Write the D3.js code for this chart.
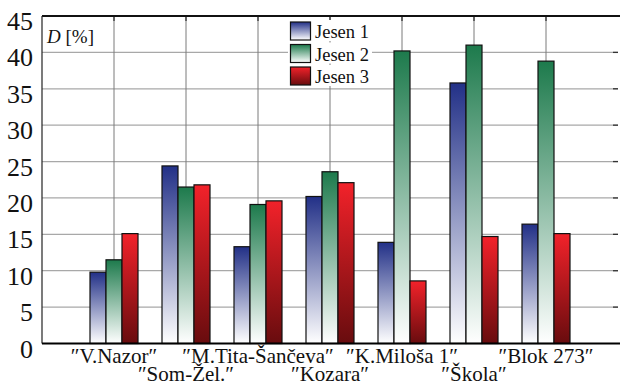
<!DOCTYPE html>
<html><head><meta charset="utf-8">
<script src="https://cdn.jsdelivr.net/npm/d3@7"></script>
<style>html,body{margin:0;padding:0;background:#fff;}svg{display:block;}</style>
</head><body>
<script>
const categories = ["V.Nazor","Som-Žel.","M.Tita-Šančeva","Kozara","K.Miloša 1","Škola","Blok 273"];
const series = ["Jesen 1","Jesen 2","Jesen 3"];
const jesen1 = [9.8, 24.4, 13.3, 20.2, 13.9, 35.8, 16.4];
const jesen2 = [11.5, 21.5, 19.1, 23.6, 40.2, 41.0, 38.8];
const jesen3 = [15.1, 21.8, 19.6, 22.1, 8.6, 14.7, 15.1];
const yTicks = [0,5,10,15,20,25,30,35,40,45];
const values = [jesen1, jesen2, jesen3];

const W = 620, H = 383;
const margin = {left: 42, right: 2, top: 16, bottom: 39.5};
const FONT = '"Liberation Serif"';
const svg = d3.select("body").append("svg").attr("width", W).attr("height", H);

const x = d3.scaleLinear().domain([0, categories.length + 1]).range([margin.left, W - margin.right]);
const y = d3.scaleLinear().domain([0, 45]).range([H - margin.bottom, margin.top]);
const sub = d3.scaleBand().domain(series).range([-24, 24]).padding(0);

const defs = svg.append("defs");
const grads = [
  ["g1", "#223087", "#ffffff"],
  ["g2", "#1d7a4c", "#ffffff"],
  ["g3", "#f2222a", "#680c0e"]
];
grads.forEach(([id, c0, c1]) => {
  const g = defs.append("linearGradient").attr("id", id).attr("x1", 0).attr("y1", 0).attr("x2", 0).attr("y2", 1);
  g.append("stop").attr("offset", "0%").attr("stop-color", c0);
  g.append("stop").attr("offset", "100%").attr("stop-color", c1);
});

// horizontal grid
svg.append("g").selectAll("line").data(yTicks.filter(d => d > 0 && d < 45)).join("line")
  .attr("x1", x(0)).attr("x2", x(8)).attr("y1", d => y(d)).attr("y2", d => y(d))
  .attr("stroke", "#a8a8a8").attr("stroke-width", 1.3);
// vertical grid
const catIdx = d3.range(1, categories.length + 1);
svg.append("g").selectAll("line").data(catIdx).join("line")
  .attr("x1", d => x(d)).attr("x2", d => x(d)).attr("y1", y(45)).attr("y2", y(0))
  .attr("stroke", "#7a7a7a").attr("stroke-width", 1);
// top ticks
svg.append("g").selectAll("line").data(catIdx).join("line")
  .attr("x1", d => x(d)).attr("x2", d => x(d)).attr("y1", y(45)).attr("y2", y(45) + 5)
  .attr("stroke", "#333").attr("stroke-width", 1.3);
// right ticks
svg.append("g").selectAll("line").data(yTicks.filter(d => d > 0 && d < 45)).join("line")
  .attr("x1", x(8) - 5).attr("x2", x(8)).attr("y1", d => y(d)).attr("y2", d => y(d))
  .attr("stroke", "#333").attr("stroke-width", 1.3);

// frame
svg.append("line").attr("x1", x(0)).attr("x2", W).attr("y1", y(45)).attr("y2", y(45)).attr("stroke", "#111").attr("stroke-width", 1.8);
svg.append("line").attr("x1", x(0)).attr("x2", x(0)).attr("y1", y(45)).attr("y2", y(0)).attr("stroke", "#222").attr("stroke-width", 1.2);

// bars
const groups = svg.append("g").selectAll("g").data(categories).join("g")
  .attr("transform", (d, i) => `translate(${x(i + 1)},0)`);
groups.selectAll("rect").data((d, i) => series.map((s, k) => ({s, k, v: values[k][i]}))).join("rect")
  .attr("x", d => sub(d.s)).attr("width", sub.bandwidth())
  .attr("y", d => y(d.v)).attr("height", d => y(0) - y(d.v))
  .attr("fill", d => `url(#g${d.k + 1})`)
  .attr("stroke", "#111").attr("stroke-width", 1.2);

// bottom axis line
svg.append("line").attr("x1", x(0)).attr("x2", W).attr("y1", y(0)).attr("y2", y(0)).attr("stroke", "#000").attr("stroke-width", 2);

// y tick labels
svg.append("g").selectAll("text").data(yTicks).join("text")
  .attr("x", 33).attr("y", d => y(d) + 14)
  .attr("text-anchor", "end").style("font-family", FONT).attr("font-size", 26).attr("fill", "#111")
  .text(d => d);

// axis title
const t = svg.append("text").attr("x", 47).attr("y", 43).style("font-family", FONT).attr("font-size", 19).attr("fill", "#111");
t.append("tspan").attr("font-style", "italic").text("D");
t.append("tspan").text(" [%]");

// x labels
svg.append("g").selectAll("text").data(categories).join("text")
  .attr("x", (d, i) => x(i + 1)).attr("y", (d, i) => i % 2 === 0 ? 363 : 381)
  .attr("text-anchor", "middle").style("font-family", FONT).attr("font-size", 21).attr("fill", "#111")
  .text(d => "\u2033" + d + "\u2033");

// legend
const leg = svg.append("g");
series.forEach((s, k) => {
  const yy = 22 + k * 22.5;
  leg.append("rect").attr("x", 288).attr("y", yy - 2).attr("width", 84).attr("height", 21).attr("fill", "#fff");
  leg.append("rect").attr("x", 290.5).attr("y", yy).attr("width", 20).attr("height", 18)
    .attr("fill", `url(#g${k + 1})`).attr("stroke", "#111").attr("stroke-width", 1.2);
  leg.append("text").attr("x", 315).attr("y", yy + 16).style("font-family", FONT).attr("font-size", 18.5).attr("fill", "#111").text(s);
});
</script>
</body></html>
